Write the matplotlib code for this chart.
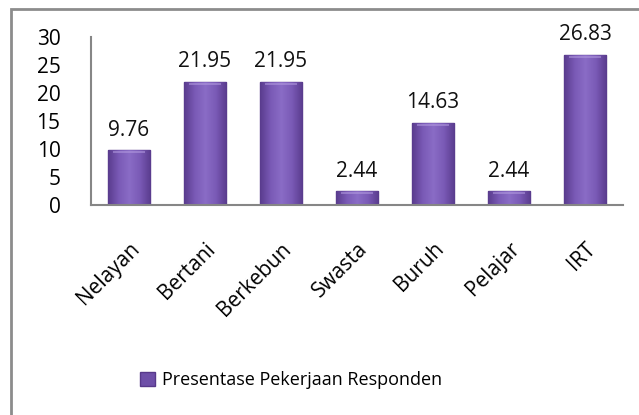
"""Bar chart: Presentase Pekerjaan Responden."""

import matplotlib

matplotlib.use("Agg")
import matplotlib.pyplot as plt
import numpy as np
from matplotlib.colors import LinearSegmentedColormap
from matplotlib.patches import Rectangle

categories = ["Nelayan", "Bertani", "Berkebun", "Swasta", "Buruh", "Pelajar", "IRT"]
values = [9.76, 21.95, 21.95, 2.44, 14.63, 2.44, 26.83]
value_labels = ["9.76", "21.95", "21.95", "2.44", "14.63", "2.44", "26.83"]
y_ticks = [0, 5, 10, 15, 20, 25, 30]
series_name = "Presentase Pekerjaan Responden"

BAR_COLOR = "#7856b0"
EDGE_COLOR = "#57398a"
AXIS_COLOR = "#868686"
FONT = ["Open Sans", "DejaVu Sans"]

plt.rcParams["font.family"] = FONT

bar_cmap = LinearSegmentedColormap.from_list(
    "bar", ["#5a3c8e", "#7a5ab6", "#8a6cc6", "#7a5ab6", "#5a3c8e"]
)

W, H = 639, 415
fig = plt.figure(figsize=(W / 100, H / 100), dpi=100)
fig.patch.set_facecolor("white")

# outer chart frame (right/bottom edges are cropped in the original)
frame = Rectangle(
    (11 / W, -0.1), 1.2, (H - 9) / H + 0.1,
    transform=fig.transFigure, fill=False, edgecolor="#8c8c8c", linewidth=2,
    clip_on=False,
)
fig.patches.append(frame)

ax = fig.add_axes([91 / W, 1 - 205 / H, (623 - 91) / W, (205 - 37) / H])
x = np.arange(len(categories))
bars = ax.bar(x, values, width=0.56, color=BAR_COLOR, edgecolor=EDGE_COLOR,
              linewidth=1.0, label=series_name, zorder=2)

# horizontal shading inside each bar, like the original 3-D style fill
grad = np.linspace(0, 1, 64).reshape(1, -1)
for bar in bars:
    x0, w, h = bar.get_x(), bar.get_width(), bar.get_height()
    im = ax.imshow(grad, cmap=bar_cmap, aspect="auto",
                   extent=[x0, x0 + w, 0, h], zorder=2.5)
    im.set_clip_path(bar)
    # light cap on top of the bar
    ax.fill_between([x0 + w * 0.12, x0 + w * 0.88], h - 0.55, h - 0.15,
                    color="#b39be0", alpha=0.55, linewidth=0, zorder=3)

for bar, lab in zip(bars, value_labels):
    ax.annotate(lab, (bar.get_x() + bar.get_width() / 2, bar.get_height()),
                xytext=(0, 7), textcoords="offset points",
                ha="center", va="bottom", fontsize=15, color="#111111")

ax.set_xlim(-0.5, len(categories) - 0.5)
ax.set_ylim(0, 30)
ax.set_yticks(y_ticks)
ax.set_yticklabels([str(t) for t in y_ticks], fontsize=15)
ax.set_xticks(x)
ax.set_xticklabels(categories, fontsize=15, rotation=45, ha="right",
                   rotation_mode="anchor")
ax.tick_params(axis="y", length=0, pad=22)
ax.tick_params(axis="x", length=0, pad=24)

for side in ("top", "right"):
    ax.spines[side].set_visible(False)
for side in ("left", "bottom"):
    ax.spines[side].set_color(AXIS_COLOR)
    ax.spines[side].set_linewidth(1.5)
    ax.spines[side].set_zorder(4)

handle = Rectangle((0, 0), 1, 1, facecolor="#6e4fa8", edgecolor=EDGE_COLOR)
fig.legend(handles=[handle], labels=[series_name], loc="center",
           bbox_to_anchor=(291 / W, 1 - 380 / H), frameon=False, fontsize=13,
           handlelength=0.85, handleheight=0.85, handletextpad=0.4)

fig.savefig("out.png", dpi=100)
